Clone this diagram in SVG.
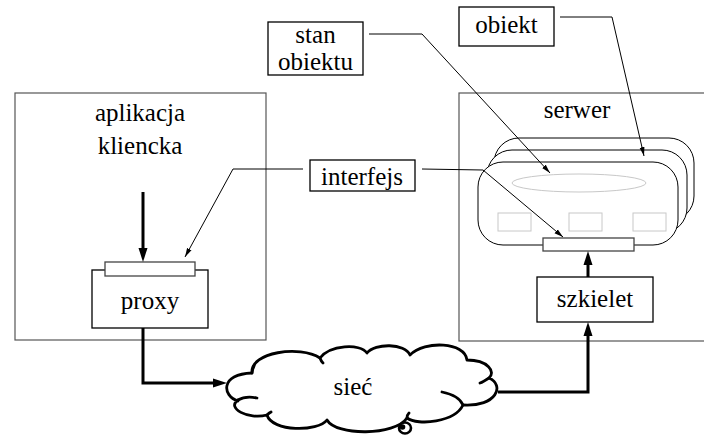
<svg xmlns="http://www.w3.org/2000/svg" width="704" height="435" viewBox="0 0 704 435" font-family="'Liberation Serif', 'Times New Roman', Times, 'DejaVu Serif', serif">
<defs>
<style>
text{font-family:"Liberation Serif","Times New Roman",Times,"DejaVu Serif",serif;font-size:25px;fill:#000;text-anchor:middle}
.frame{fill:none;stroke:#555;stroke-width:1.2}
.box{fill:#fff;stroke:#000;stroke-width:1.3}
.bar{fill:#fff;stroke:#444;stroke-width:1.3}
.obj{fill:#fff;stroke:#000;stroke-width:1}
.faint{fill:none;stroke:#c8c8c8;stroke-width:1}
.thin{fill:none;stroke:#000;stroke-width:1}
.thick{fill:none;stroke:#000;stroke-width:3}
.cloud{fill:#fff;stroke:#000;stroke-width:2.8;stroke-linejoin:round;stroke-linecap:round}
</style>
<marker id="ah" markerUnits="userSpaceOnUse" markerWidth="10" markerHeight="6" refX="9" refY="3" orient="auto">
<path d="M0,0.5 L9,3 L0,5.5 z" fill="#000"/>
</marker>
<marker id="AH" markerUnits="userSpaceOnUse" markerWidth="14" markerHeight="10" refX="0" refY="5" orient="auto">
<path d="M0,0.5 L14,5 L0,9.5 z" fill="#000"/>
</marker>
</defs>

<g id="client">
<rect class="frame" x="15" y="93" width="251" height="247"/>
<text x="140" y="121">aplikacja</text>
<text x="140" y="154">kliencka</text>
</g>

<g id="server">
<rect class="frame" x="459" y="93" width="270" height="248"/>
<text x="577" y="118">serwer</text>
</g>

<g id="objects">
<rect class="obj" x="494" y="138" width="200" height="83" rx="25" ry="25"/>
<rect class="obj" x="487" y="150" width="200" height="83" rx="25" ry="25"/>
<rect class="obj" x="478" y="162" width="200" height="83" rx="25" ry="25"/>
<ellipse class="faint" cx="579" cy="183" rx="67" ry="9"/>
<rect class="faint" x="498" y="213" width="33" height="18"/>
<rect class="faint" x="569" y="213" width="33" height="18"/>
<rect class="faint" x="633" y="213" width="33" height="18"/>
</g>

<g id="proxy">
<rect class="box" x="92" y="270" width="116" height="58"/>
<rect class="bar" x="105" y="262" width="90" height="14"/>
<text x="150" y="309">proxy</text>
</g>

<g id="skeleton-bar">
<rect class="bar" x="543" y="238" width="91" height="13"/>
</g>

<g id="szkielet">
<rect class="box" x="537" y="277" width="116" height="45"/>
<text x="595" y="307">szkielet</text>
</g>

<g id="interfejs">
<rect class="box" x="310" y="160" width="105" height="31"/>
<text x="362" y="185">interfejs</text>
</g>

<g id="stan-obiektu">
<rect class="box" x="268" y="22" width="95" height="53"/>
<text x="315.5" y="43">stan</text>
<text x="315.5" y="70">obiektu</text>
</g>

<g id="obiekt">
<rect class="box" x="459" y="7" width="95" height="39"/>
<text x="506.5" y="33">obiekt</text>
</g>

<g id="siec">
<path class="cloud" d="M238,401 C222,396 220,374 252,373 C250,352 300,345 320,358 C330,345 360,343 367,353 C375,343 405,343 410,355 C425,340 465,342 467,360 C488,360 496,372 489,378 C505,385 497,407 463,405 C455,422 418,426 407,418 C395,436 336,436 327,420 C318,432 272,432 267,415 C248,420 226,408 238,400 Z"/>
<path class="cloud" d="M238,400 C245,396 252,397 257,398 M252,373 C252,370 253,368 254,366 M320,358 C321,361 322,362 323,363 M489,378 C486,380 483,382 480,383 M463,405 C460,398 452,394 442,392 M407,418 C407,416 408,414 409,413 M267,415 C268,414 269,413 271,412"/>
<ellipse cx="405" cy="428" rx="6" ry="5.5" fill="#fff" stroke="#000" stroke-width="2.6"/>
<circle cx="402.5" cy="427" r="2.8" fill="#000"/>
<text x="353" y="395">sieć</text>
</g>

<g id="connectors">
<line class="thick" x1="143" y1="192" x2="143" y2="248" marker-end="url(#AH)"/>
<polyline class="thick" points="143,328 143,383 213,383" marker-end="url(#AH)"/>
<polyline class="thick" points="498,392 588,392 588,336" marker-end="url(#AH)"/>
<line class="thick" x1="588" y1="277" x2="588" y2="265" marker-end="url(#AH)"/>
<polyline class="thin" points="303,169 233,169 185,257" marker-end="url(#ah)"/>
<polyline class="thin" points="422,169 483,170 563,237" marker-end="url(#ah)"/>
<polyline class="thin" points="369,34 422,34 550,173" marker-end="url(#ah)"/>
<polyline class="thin" points="560,17 612,17 644,156" marker-end="url(#ah)"/>
</g>
</svg>
